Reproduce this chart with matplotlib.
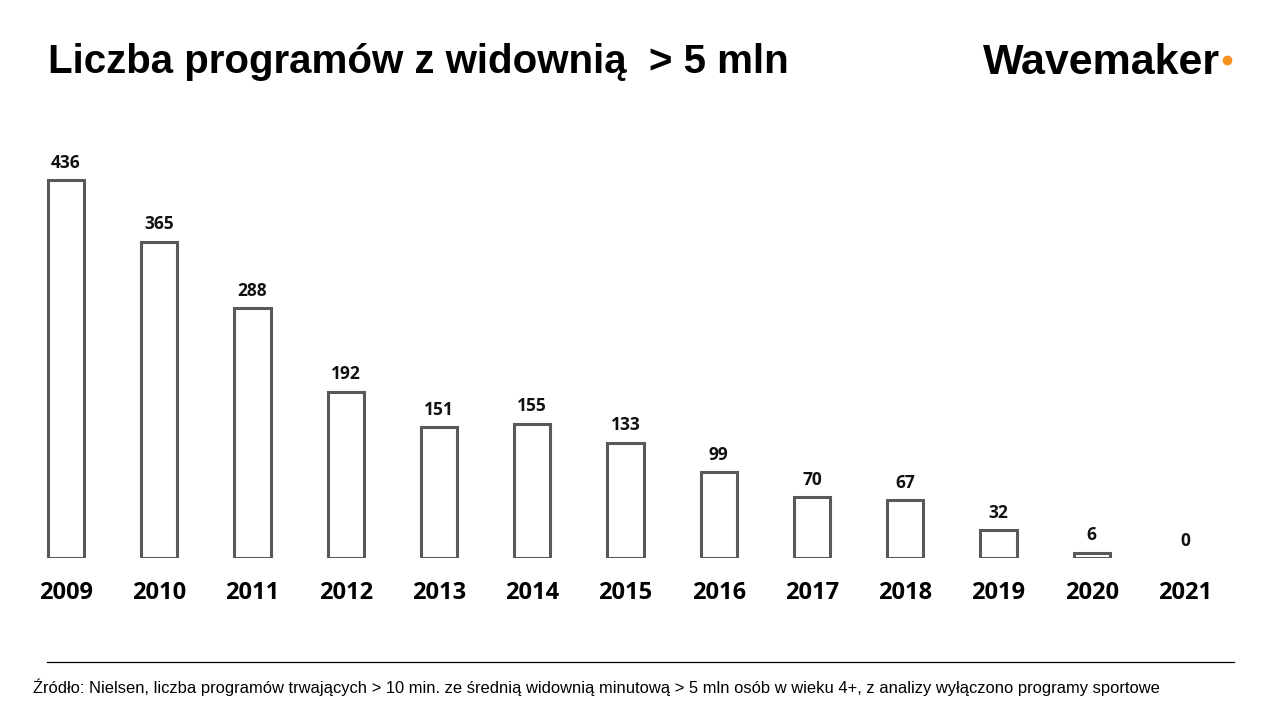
import matplotlib.pyplot as plt
from matplotlib.lines import Line2D
import numpy as np

years = ['2009', '2010', '2011', '2012', '2013', '2014', '2015',
         '2016', '2017', '2018', '2019', '2020', '2021']
values = [436, 365, 288, 192, 151, 155, 133, 99, 70, 67, 32, 6, 0]

title = 'Liczba programów z widownią  > 5 mln'
source = ('Źródło: Nielsen, liczba programów trwających > 10 min. ze średnią widownią '
          'minutową > 5 mln osób w wieku 4+, z analizy wyłączono programy sportowe')

W, H = 1280, 720
fig = plt.figure(figsize=(12.8, 7.2), dpi=100)

# axes placed so bar centres land where they are in the picture
step = (1185 - 66) / 12
x0 = 66 - 0.5 * step
ax = fig.add_axes([x0 / W, (H - 558) / H, 13 * step / W, 433.5 / H])
x = np.arange(len(years))
bars = ax.bar(x, values, width=0.39, facecolor='white', edgecolor='#595959', linewidth=2.2)
for b, v in zip(bars, values):
    if v == 0:
        b.set_visible(False)
ax.set_xlim(-0.5, 12.5)
ax.set_ylim(0, 500)
ax.axis('off')

for xi, v in zip(x, values):
    ax.annotate(str(v), (xi, v), xytext=(0, 6), textcoords='offset points',
                ha='center', va='bottom', fontsize=12.5, fontweight='bold',
                family='Open Sans', color='#111111')
    ax.annotate(years[xi], (xi, 0), xytext=(0, -25), textcoords='offset points',
                ha='center', va='center', fontsize=17, fontweight='bold',
                family='Open Sans', color='black')

fig.text(48 / W, 1 - 62 / H, title, ha='left', va='center', fontsize=29,
         fontweight='bold', family='Liberation Sans', color='black')

fig.text(983 / W, 1 - 63 / H, 'Wavemaker', ha='left', va='center', fontsize=31,
         fontweight='bold', family='Liberation Sans', color='black')
fig.add_artist(Line2D([1227 / W], [1 - 60 / H], marker='o', markersize=6,
                      color='#f7901e', transform=fig.transFigure))

fig.add_artist(Line2D([47 / W, 1234 / W], [1 - 662 / H, 1 - 662 / H],
                      color='black', linewidth=0.9, transform=fig.transFigure))
fig.text(33 / W, 1 - 687 / H, source, ha='left', va='center', fontsize=11.9,
         family='Liberation Sans', color='black')

fig.savefig('out.png', dpi=100)
